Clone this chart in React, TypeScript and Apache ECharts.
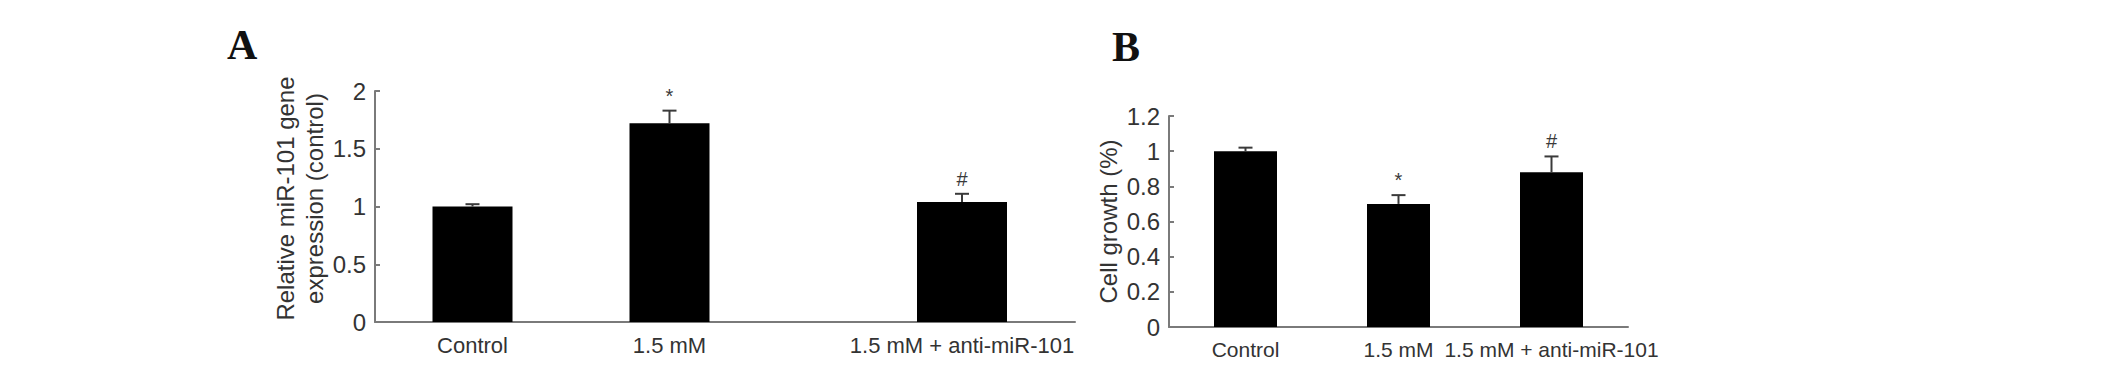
import React, { useEffect, useRef } from "react";
import * as echarts from "echarts";

const categories = ["Control", "1.5 mM", "1.5 mM + anti-miR-101"];
const valuesA = [1.0, 1.72, 1.04];
const errorsA = [0.02, 0.11, 0.07];
const marksA = ["", "*", "#"];
const valuesB = [1.0, 0.7, 0.88];
const errorsB = [0.02, 0.05, 0.09];
const marksB = ["", "*", "#"];
const axisNameA = "Relative miR-101 gene\nexpression (control)";
const axisNameB = "Cell growth (%)";

const FONT = '"Liberation Sans", Arial, sans-serif';
const TEXT = "#333333";
const AXIS = "#7a7a7a";

// panel A: the original's category slots are uneven, so each slot gets its own grid
const slotsA = [
  { left: 375, width: 195, barWidth: 80, shift: false },
  { left: 570, width: 279, barWidth: 80, shift: true },
  { left: 849, width: 226, barWidth: 90, shift: false },
];

function errorSeries(xIdx: number, yIdx: number, values: number[], errors: number[], marks: string[], offset: number) {
  return {
    type: "custom",
    xAxisIndex: xIdx,
    yAxisIndex: yIdx,
    z: 5,
    data: values.map((v, i) => [i, v, errors[i]]),
    renderItem: (params: any, api: any) => {
      const i = api.value(0);
      const v = api.value(1);
      const e = api.value(2);
      const base = api.coord([i, v]);
      const top = api.coord([i, v + e]);
      const x = base[0] + offset;
      const cap = 7;
      const st = { stroke: "#3a3a3a", lineWidth: 2 };
      const children: any[] = [
        { type: "line", shape: { x1: x, y1: base[1], x2: x, y2: top[1] }, style: st },
        { type: "line", shape: { x1: x - cap, y1: top[1], x2: x + cap, y2: top[1] }, style: st },
      ];
      const m = marks[params.dataIndex];
      if (m) {
        children.push({
          type: "text",
          x: x,
          y: top[1] - 5,
          style: { text: m, textAlign: "center", textVerticalAlign: "bottom", font: `20px ${FONT}`, fill: "#3a3a3a" },
        });
      }
      return { type: "group", children };
    },
  };
}

function xAxis(gridIndex: number, data: string[], fontSize: number, labelPadding: number[] = [0, 0, 0, 0]) {
  return {
    type: "category",
    gridIndex,
    data,
    boundaryGap: true,
    axisLine: { lineStyle: { color: AXIS, width: 2 } },
    axisTick: { inside: true, length: 6, lineStyle: { color: AXIS, width: 2 } },
    axisLabel: { color: TEXT, fontSize, fontFamily: FONT, margin: 12, interval: 0, padding: labelPadding },
  };
}

function yAxis(
  gridIndex: number,
  max: number,
  interval: number,
  visible: boolean,
  name = "",
  nameGap = 0,
  namePadding: number[] = [0, 0, 0, 0]
) {
  return {
    type: "value",
    gridIndex,
    min: 0,
    max,
    interval,
    show: visible,
    name,
    nameLocation: "middle",
    nameRotate: 90,
    nameGap,
    nameTextStyle: { color: TEXT, fontSize: 24, fontFamily: FONT, lineHeight: 29, padding: namePadding },
    splitLine: { show: false },
    axisLine: { show: true, lineStyle: { color: AXIS, width: 2 } },
    axisTick: { show: true, inside: true, length: 5, lineStyle: { color: AXIS, width: 2 } },
    axisLabel: { color: TEXT, fontSize: 24, fontFamily: FONT, margin: 9 },
  };
}

export default function App() {
  const ref = useRef<HTMLDivElement>(null);
  useEffect(() => {
    if (!ref.current) return;
    const chart = echarts.init(ref.current, undefined, { renderer: "svg" });

    const grids: any[] = slotsA.map((s) => ({ left: s.left, width: s.width, top: 91, bottom: 51 }));
    grids.push({ left: 1169, right: 498, top: 116, bottom: 46 });

    const xAxes: any[] = slotsA.map((s, i) =>
      xAxis(i, [categories[i]], 22, s.shift ? [0, s.barWidth, 0, 0] : [0, 0, 0, 0])
    );
    xAxes.push(xAxis(3, categories, 21));

    const yAxes: any[] = slotsA.map((s, i) =>
      i === 0 ? yAxis(0, 2, 0.5, true, axisNameA, 44, [0, 0, 0, 16]) : yAxis(i, 2, 0.5, false)
    );
    yAxes.push(yAxis(3, 1.2, 0.2, true, axisNameB, 38));

    const series: any[] = [];
    slotsA.forEach((s, i) => {
      series.push({
        type: "bar",
        xAxisIndex: i,
        yAxisIndex: i,
        data: [valuesA[i]],
        barWidth: s.barWidth,
        barGap: 0,
        itemStyle: { color: "#000" },
      });
      if (s.shift) {
        // empty companion bar: pushes the drawn bar left, as in the original
        series.push({ type: "bar", xAxisIndex: i, yAxisIndex: i, data: [null], barWidth: s.barWidth, barGap: 0 });
      }
      series.push(
        errorSeries(i, i, [valuesA[i]], [errorsA[i]], [marksA[i]], s.shift ? -s.barWidth / 2 : 0)
      );
    });
    series.push({ type: "bar", xAxisIndex: 3, yAxisIndex: 3, data: valuesB, barWidth: 63, itemStyle: { color: "#000" } });
    series.push(errorSeries(3, 3, valuesB, errorsB, marksB, 0));

    chart.setOption({
      animation: false,
      backgroundColor: "#ffffff",
      grid: grids,
      xAxis: xAxes,
      yAxis: yAxes,
      graphic: [
        { type: "text", left: 227, top: 24, style: { text: "A", font: 'bold 42px "Liberation Serif", serif', fill: "#111" } },
        { type: "text", left: 1112, top: 26, style: { text: "B", font: 'bold 42px "Liberation Serif", serif', fill: "#111" } },
      ],
      series,
    });
    return () => chart.dispose();
  }, []);
  return <div ref={ref} style={{ position: "fixed", left: 0, top: 0, width: 2126, height: 373, background: "#fff" }} />;
}
